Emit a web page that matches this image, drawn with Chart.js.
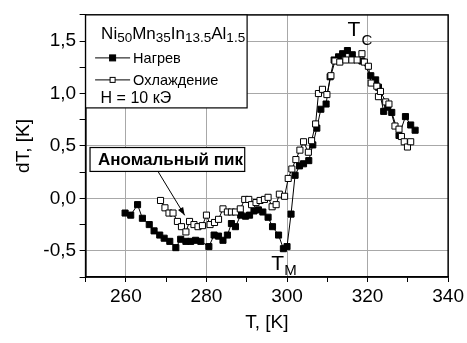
<!DOCTYPE html>
<html>
<head>
<meta charset="utf-8">
<script src="https://cdn.jsdelivr.net/npm/chart.js@4/dist/chart.umd.min.js"></script>
<style>
  html, body { margin: 0; padding: 0; background: #fff; }
</style>
</head>
<body>
<canvas id="dtChart" width="467" height="343"></canvas>
<script>
// Heating (Нагрев) – filled squares
const heatT = [259.8, 261.2, 262.9, 264.1, 265.8, 267.0, 268.4, 269.5, 270.9, 272.4,
  273.6, 274.9, 276.1, 277.3, 278.6, 280.6, 281.9, 283.0, 284.1, 285.2,
  286.2, 287.2, 288.5, 289.7, 290.7, 291.8, 292.9, 294.0, 295.3, 296.4,
  297.9, 299.1, 300.0, 301.0, 302.0, 303.1, 304.1, 305.4, 306.4, 307.4,
  308.4, 309.7, 310.7, 311.7, 312.8, 313.8, 315.0, 316.2, 318.6, 320.8,
  322.0, 322.7, 324.0, 325.0, 326.0, 327.8, 329.4, 330.7, 331.8];
const heatDT = [-0.14, -0.16, -0.06, -0.19, -0.25, -0.31, -0.35, -0.38, -0.41, -0.47,
  -0.39, -0.41, -0.41, -0.40, -0.41, -0.46, -0.35, -0.36, -0.40, -0.35,
  -0.24, -0.27, -0.16, -0.17, -0.16, -0.12, -0.11, -0.13, -0.18, -0.27,
  -0.35, -0.48, -0.46, -0.15, 0.22, 0.31, 0.33, 0.36, 0.51, 0.67,
  0.85, 0.90, 1.16, 1.32, 1.35, 1.38, 1.41, 1.37, 1.31, 1.17,
  1.13, 1.06, 0.83, 0.87, 0.82, 0.60, 0.78, 0.70, 0.65];

// Cooling (Охлаждение) – open squares
const coolT = [268.6, 269.7, 270.7, 271.7, 272.8, 273.8, 274.9, 275.8, 276.9, 277.9,
  279.0, 280.0, 280.9, 282.0, 283.0, 284.1, 285.2, 286.2, 287.2, 288.4,
  289.5, 290.5, 291.2, 292.3, 293.3, 294.4, 295.3, 296.3, 297.3, 298.1,
  299.4, 300.3, 301.2, 302.2, 303.2, 304.1, 305.3, 306.1, 307.1, 307.8,
  308.8, 309.9, 310.9, 311.9, 313.1, 314.6, 316.1, 317.4, 318.6, 319.2,
  320.2, 320.9, 322.3, 322.7, 323.2, 324.5, 325.3, 326.8, 327.8, 328.4,
  329.1, 329.9, 330.7];
const coolDT = [-0.02, -0.09, -0.14, -0.14, -0.22, -0.27, -0.32, -0.22, -0.25, -0.27,
  -0.26, -0.16, -0.25, -0.23, -0.20, -0.10, -0.13, -0.13, -0.13, -0.10,
  -0.01, -0.01, -0.06, -0.04, -0.02, -0.01, 0.01, -0.08, -0.06, 0.04,
  0.02, 0.19, 0.28, 0.37, 0.46, 0.54, 0.44, 0.55, 0.71, 1.00,
  1.04, 0.99, 1.17, 1.31, 1.30, 1.32, 1.32, 1.32, 1.38, 1.30,
  1.26, 1.10, 1.07, 0.97, 1.02, 0.92, 0.90, 0.69, 0.66, 0.59,
  0.54, 0.49, 0.54];

const seriesNames = ['Нагрев', 'Охлаждение'];
const xTitle = 'T, [K]';
const yTitle = 'dT, [K]';

const FONT = "'Liberation Sans', Arial, sans-serif";
const GRID = '#a8a8a8';

const isMajorY = v => Math.abs(v * 2 - Math.round(v * 2)) < 1e-9;

// frame, legend box, annotation, T_C / T_M labels
const overlay = {
  id: 'overlay',
  afterDraw(chart) {
    const { ctx, chartArea: a, scales: { x, y } } = chart;
    ctx.save();

    ctx.strokeStyle = '#000';
    ctx.lineWidth = 1.5;
    ctx.strokeRect(a.left, a.top, a.right - a.left, a.bottom - a.top);

    // legend box
    ctx.fillStyle = '#fff';
    ctx.fillRect(a.left, a.top, 161.5, 93);
    ctx.lineWidth = 1.2;
    ctx.strokeRect(a.left, a.top, 161.5, 93);

    ctx.fillStyle = '#000';
    ctx.textBaseline = 'alphabetic';
    let cx = a.left + 15.5;
    [['Ni', 0], ['50', 1], ['Mn', 0], ['35', 1], ['In', 0], ['13.5', 1], ['Al', 0], ['1.5', 1]]
      .forEach(([t, sub]) => {
        ctx.font = (sub ? '13.5px ' : '17px ') + FONT;
        ctx.fillText(t, cx, a.top + (sub ? 27 : 24));
        cx += ctx.measureText(t).width;
      });

    const rows = [[a.top + 43, true], [a.top + 65, false]];
    rows.forEach(([ry, filled], i) => {
      ctx.lineWidth = 1;
      ctx.beginPath();
      ctx.moveTo(a.left + 9.5, ry);
      ctx.lineTo(a.left + 44.5, ry);
      ctx.stroke();
      const s = filled ? 6 : 5;
      ctx.fillStyle = filled ? '#000' : '#fff';
      ctx.fillRect(a.left + 27 - s / 2, ry - s / 2, s, s);
      ctx.strokeRect(a.left + 27 - s / 2, ry - s / 2, s, s);
      ctx.fillStyle = '#000';
      ctx.font = '14.5px ' + FONT;
      ctx.fillText(seriesNames[i], a.left + 47.5, ry + 5);
    });
    ctx.font = '16px ' + FONT;
    ctx.fillText('H = 10 кЭ', a.left + 15, a.top + 88);

    // "Аномальный пик" box + arrow
    const bx0 = x.getPixelForValue(251.1), bx1 = x.getPixelForValue(289.5);
    const by0 = y.getPixelForValue(0.485), by1 = y.getPixelForValue(0.257);
    ctx.fillStyle = '#fff';
    ctx.fillRect(bx0, by0, bx1 - bx0, by1 - by0);
    ctx.lineWidth = 1.2;
    ctx.strokeRect(bx0, by0, bx1 - bx0, by1 - by0);
    ctx.fillStyle = '#000';
    ctx.font = 'bold 17px ' + FONT;
    ctx.fillText('Аномальный пик', bx0 + 8, by1 - 6.5);

    const ax0 = x.getPixelForValue(268), ay0 = y.getPixelForValue(0.255);
    const ax1 = x.getPixelForValue(274.6), ay1 = y.getPixelForValue(-0.162);
    const ang = Math.atan2(ay1 - ay0, ax1 - ax0);
    ctx.lineWidth = 1;
    ctx.beginPath();
    ctx.moveTo(ax0, ay0);
    ctx.lineTo(ax1, ay1);
    ctx.stroke();
    ctx.beginPath();
    ctx.moveTo(ax1, ay1);
    ctx.lineTo(ax1 - 8 * Math.cos(ang) + 3 * Math.sin(ang), ay1 - 8 * Math.sin(ang) - 3 * Math.cos(ang));
    ctx.lineTo(ax1 - 8 * Math.cos(ang) - 3 * Math.sin(ang), ay1 - 8 * Math.sin(ang) + 3 * Math.cos(ang));
    ctx.closePath();
    ctx.fill();

    // T_C and T_M
    const tcx = x.getPixelForValue(315), tcy = y.getPixelForValue(1.55);
    ctx.font = '21px ' + FONT;
    ctx.fillText('T', tcx, tcy);
    ctx.font = '15px ' + FONT;
    ctx.fillText('C', tcx + 14, tcy + 9);
    const tmx = x.getPixelForValue(296.1), tmy = y.getPixelForValue(-0.684);
    ctx.font = '21px ' + FONT;
    ctx.fillText('T', tmx, tmy);
    ctx.font = '15px ' + FONT;
    ctx.fillText('M', tmx + 13, tmy + 5);

    ctx.restore();
  }
};

const ctx = document.getElementById('dtChart').getContext('2d');
new Chart(ctx, {
  type: 'scatter',
  data: {
    datasets: [
      {
        label: seriesNames[1],
        data: coolT.map((t, i) => ({ x: t, y: coolDT[i] })),
        showLine: true,
        borderColor: '#000',
        borderWidth: 1,
        pointStyle: 'rect',
        pointRadius: 4.3,
        pointBackgroundColor: '#fff',
        pointBorderColor: '#000',
        pointBorderWidth: 1,
        order: 0
      },
      {
        label: seriesNames[0],
        data: heatT.map((t, i) => ({ x: t, y: heatDT[i] })),
        showLine: true,
        borderColor: '#000',
        borderWidth: 1,
        pointStyle: 'rect',
        pointRadius: 4.3,
        pointBackgroundColor: '#000',
        pointBorderColor: '#000',
        pointBorderWidth: 1,
        order: 1
      }
    ]
  },
  options: {
    responsive: false,
    animation: false,
    layout: { padding: { top: 5, right: 17, left: 0, bottom: 0 } },
    plugins: { legend: { display: false }, tooltip: { enabled: false } },
    scales: {
      x: {
        type: 'linear',
        min: 250,
        max: 340,
        ticks: {
          stepSize: 10,
          autoSkip: false,
          maxRotation: 0,
          padding: 3,
          color: '#000',
          font: { family: FONT, size: 19 },
          callback: v => (v % 20 === 0 && v > 250) ? String(v) : ''
        },
        grid: {
          color: c => (c.tick && c.tick.value % 20 === 0 && c.tick.value > 250 && c.tick.value < 340) ? GRID : 'rgba(0,0,0,0)',
          tickColor: '#000',
          tickLength: 5,
          lineWidth: 1
        },
        border: { color: '#000', width: 1.5 },
        title: {
          display: true,
          text: xTitle,
          color: '#000',
          font: { family: FONT, size: 19 },
          padding: { top: 0, bottom: 9 }
        },
        afterFit: s => { s.height = 66; }
      },
      y: {
        type: 'linear',
        min: -0.75,
        max: 1.75,
        ticks: {
          stepSize: 0.25,
          autoSkip: false,
          padding: 3.5,
          color: '#000',
          font: { family: FONT, size: 19 },
          callback: v => isMajorY(v) ? v.toFixed(1).replace('.', ',') : ''
        },
        grid: {
          color: c => (c.tick && isMajorY(c.tick.value) && c.tick.value > -0.75 && c.tick.value < 1.75) ? GRID : 'rgba(0,0,0,0)',
          tickColor: '#000',
          tickLength: 6,
          lineWidth: 1
        },
        border: { color: '#000', width: 1.5 },
        title: {
          display: true,
          text: yTitle,
          color: '#000',
          font: { family: FONT, size: 19 },
          padding: { top: 12, bottom: 0 }
        },
        afterFit: s => { s.width = 85.6; }
      }
    }
  },
  plugins: [overlay]
});
</script>
</body>
</html>
